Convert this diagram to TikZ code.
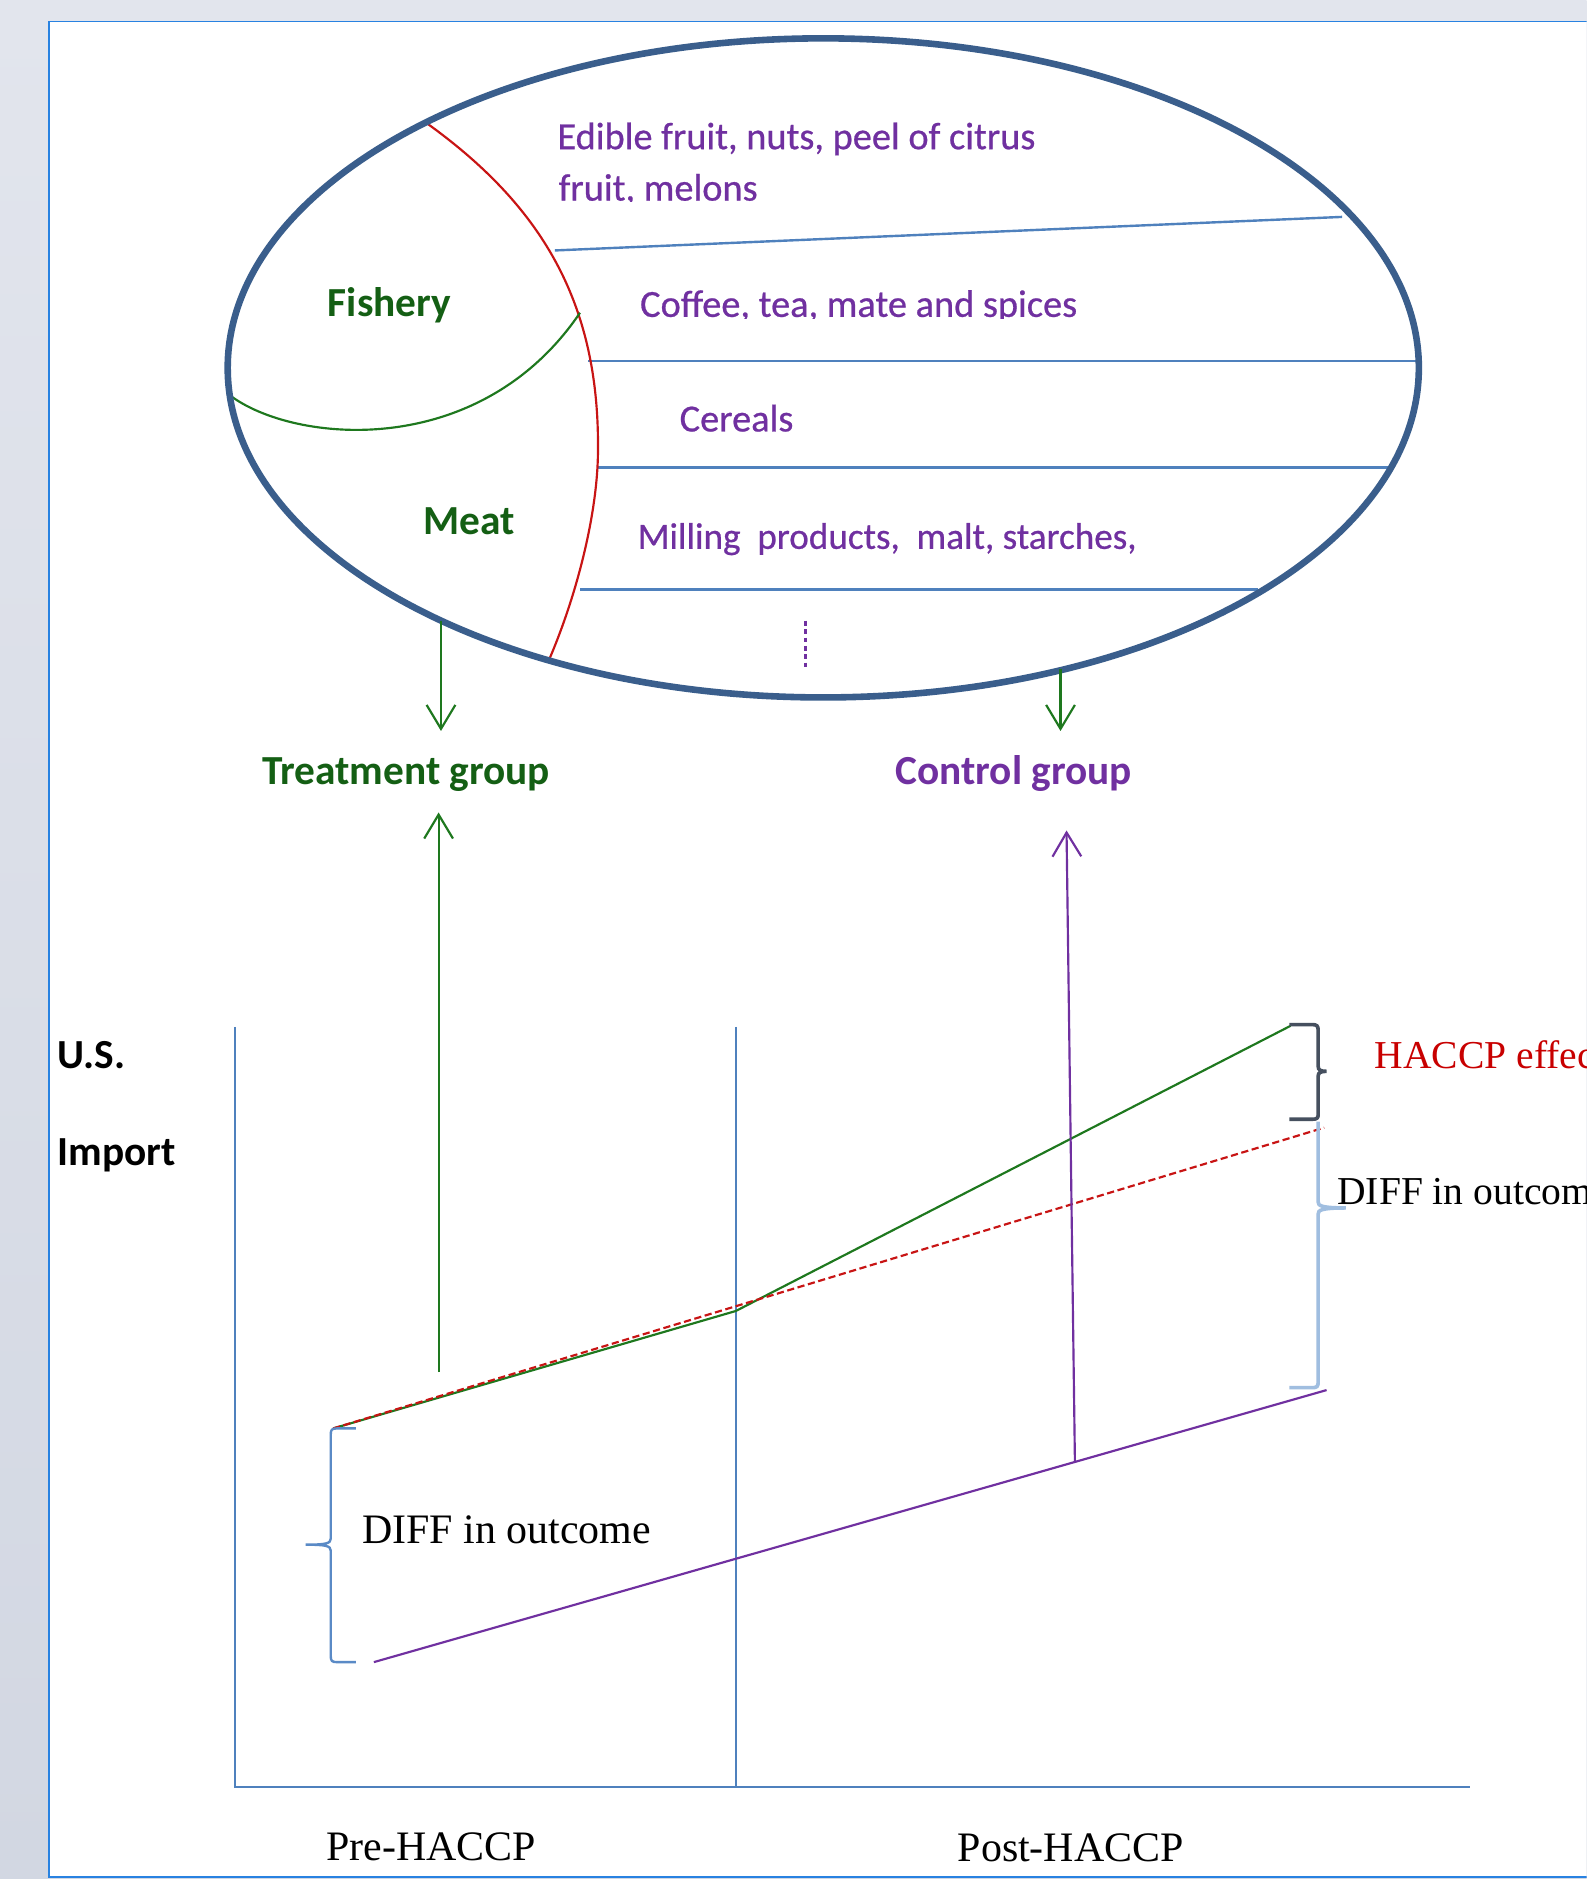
\documentclass[tikz,border=0pt]{standalone}
\usepackage{fontspec}
\setmainfont{Liberation Serif}
\newfontfamily\calfont{Carlito}
\newfontfamily\calmed{Carlito}[FakeBold=0.6]
\usetikzlibrary{arrows.meta}
\definecolor{bgout}{RGB}{226,229,237}
\definecolor{bgoutb}{RGB}{210,215,226}
\definecolor{framec}{RGB}{40,130,225}
\definecolor{ellc}{RGB}{58,94,140}
\definecolor{linec}{RGB}{79,129,189}
\definecolor{purp}{RGB}{112,48,160}
\definecolor{grnl}{RGB}{30,120,30}
\definecolor{grnt}{RGB}{20,95,20}
\definecolor{redc}{RGB}{200,20,20}
\definecolor{bracelight}{RGB}{160,190,224}
\definecolor{braceblue}{RGB}{90,138,198}
\definecolor{bracedark}{RGB}{70,80,95}
\definecolor{hred}{RGB}{200,0,0}
\tikzset{
  purplab/.style={font=\calmed\fontsize{32}{38}\selectfont, text=purp, inner sep=0pt, anchor=base west},
  grnlab/.style={font=\calfont\bfseries\fontsize{34.5}{40}\selectfont, text=grnt, inner sep=0pt, anchor=base west},
  purpbold/.style={font=\calfont\bfseries\fontsize{34.5}{40}\selectfont, text=purp, inner sep=0pt, anchor=base west},
  blklab/.style={font=\calfont\bfseries\fontsize{34.5}{40}\selectfont, text=black, inner sep=0pt, anchor=base west},
  serlab/.style={font=\fontsize{35}{40}\selectfont, text=black, inner sep=0pt, anchor=base west},
  serlabs/.style={font=\fontsize{33}{38}\selectfont, inner sep=0pt, anchor=base west},
  sector/.style={linec, line width=2pt},
  axisline/.style={linec, line width=1.8pt},
  barb/.style={-{Straight Barb[length=20pt,width=24pt]}},
}
\begin{document}
\begin{tikzpicture}[x=1pt,y=-1pt]
\useasboundingbox (0,0) rectangle (1324,1568);
\clip (0,0) rectangle (1324,1568);
\shade[top color=bgout, bottom color=bgoutb] (0,0) rectangle (1324,1568);
\draw[framec, line width=1.5pt, fill=white] (41,18) rectangle (1345,1566);

% ---------- ellipse of product categories ----------
\draw[sector] (463,209) -- (1120,181);
\draw[sector] (491,301) -- (1183,301);
\draw[sector] (499,390) -- (1158,390);
\draw[sector] (484,492) -- (1050,492);
\draw[redc, line width=1.8pt] (355,102) .. controls (450,170) and (500,250) .. (499,375)
  .. controls (499,430) and (480,500) .. (458,551);
\draw[grnl, line width=1.8pt] (192,330) .. controls (245,370) and (400,385) .. (484,261);
\draw[ellc, line width=5.5pt] (687,307) ellipse [x radius=497pt, y radius=275pt];
\draw[purp, line width=2.5pt, dash pattern=on 4pt off 3pt] (672,518) -- (672,557);

\node[purplab] (edible) at (465,124.5) {Edible fruit, nuts, peel of citrus};
\begin{scope}
  \clip (455,140) rectangle (1000,168.5);
  \node[purplab] (melons) at (466,167.4) {fruit, melons};
\end{scope}
\begin{scope}
  \clip (520,225) rectangle (1000,265.5);
  \node[purplab] (coffee) at (534,264.4) {Coffee, tea, mate and spices};
\end{scope}
\node[purplab] (cereals) at (567,360) {Cereals};
\node[purplab, font=\calmed\fontsize{31}{37}\selectfont] (milling) at (532,458) {Milling\ \ products,\ \ malt, starches,};
\node[grnlab] (fishery) at (273.5,264.4) {Fishery};
\node[grnlab] (meat) at (353,446.4) {Meat};

% ---------- groups ----------
\node[grnlab] (treat) at (218.5,655) {Treatment group};
\node[purpbold] (control) at (747,655) {Control group};
\coordinate (tA) at (368,518);
\coordinate (tB) at (368,610);
\coordinate (cA) at (885,558);
\coordinate (cB) at (885,610);
\draw[grnl, line width=1.8pt, barb] (tA) -- (tB);
\draw[grnl, line width=1.8pt, barb] (cA) -- (cB);

% ---------- graph ----------
\coordinate (o) at (196,1491);
\coordinate (ytop) at (196,857);
\coordinate (mtop) at (614,857);
\coordinate (mbot) at (614,1491);
\coordinate (xend) at (1227,1491);
\draw[axisline] (ytop) -- (o) -- (xend);
\draw[axisline] (mtop) -- (mbot);

\coordinate (gA) at (278,1192);
\coordinate (gB) at (614,1094);
\coordinate (gC) at (1077,856);
\coordinate (rC) at (1105,941);
\coordinate (pA) at (312,1387);
\coordinate (pC) at (1107,1160);
\draw[grnl, line width=1.8pt] (gA) -- (gB) -- (gC);
\draw[redc, line width=1.8pt, dash pattern=on 6pt off 3pt] (gA) -- (rC);
\draw[purp, line width=1.8pt] (pA) -- (pC);

\coordinate (gUpA) at (366,1145);
\coordinate (gUpB) at (366,678);
\coordinate (pUpA) at (897,1220);
\coordinate (pUpB) at (890,693);
\draw[grnl, line width=1.8pt, barb] (gUpA) -- (gUpB);
\draw[purp, line width=1.8pt, barb] (pUpA) -- (pUpB);

% braces
\draw[braceblue, line width=2pt] (297,1192) -- (281,1192) .. controls (277,1192) and (276,1193) .. (276,1197)
  -- (276,1284) .. controls (276,1288) and (272,1289) .. (255,1289)
  .. controls (272,1289) and (276,1290) .. (276,1294)
  -- (276,1382) .. controls (276,1386) and (277,1387) .. (281,1387) -- (297,1387);
\draw[bracedark, line width=3pt] (1076,855) -- (1095,855) .. controls (1099,855) and (1100,856) .. (1100,860)
  -- (1100,890) .. controls (1100,893) and (1102,894) .. (1107,894)
  .. controls (1102,894) and (1100,895) .. (1100,898)
  -- (1100,930) .. controls (1100,933) and (1099,934) .. (1095,934) -- (1076,934);
\draw[bracelight, line width=3pt] (1100,936)
  -- (1100,1003) .. controls (1100,1006) and (1102,1008) .. (1123,1008)
  .. controls (1102,1008) and (1100,1010) .. (1100,1013)
  -- (1100,1153) .. controls (1100,1157) and (1099,1158) .. (1095,1158) -- (1076,1158);

% labels of the graph
\node[blklab] (us) at (47.7,891.4) {U.S.};
\node[blklab] (import) at (47.7,972.3) {Import};
\node[serlab] (diffl) at (302,1288) {DIFF in outcome};
\node[serlab] (pre) at (272,1552.2) {Pre-HACCP};
\node[serlab] (post) at (799,1553.2) {Post-HACCP};
\node[serlabs, text=hred] (effect) at (1147,891.3) {HACCP effect};
\node[serlabs, text=black] (diffr) at (1115.8,1005.3) {DIFF in outcome};
\end{tikzpicture}
\end{document}
